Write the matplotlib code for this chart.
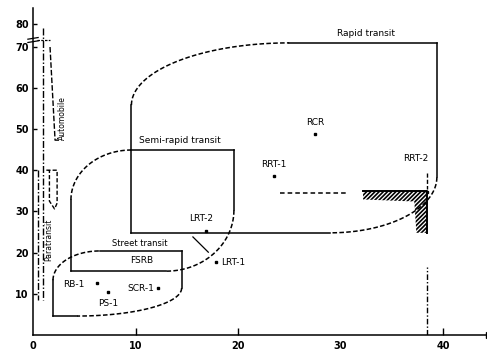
import numpy as np
import matplotlib.pyplot as plt
from matplotlib.patches import Polygon

plt.rcParams['font.family'] = 'DejaVu Sans'
plt.rcParams['hatch.linewidth'] = 1.2

# axis ticks
x_ticks = [0, 10, 20, 30, 40]
y_ticks = [10, 20, 30, 40, 50, 60, 70, 75.5]
y_tick_labels = ['10', '20', '30', '40', '50', '60', '70', '80']

# mode regions: [left, right], [bottom, top], corner radii (top-left rx, ry, bottom-right rx, ry)
rapid_x = [9.6, 39.4]
rapid_y = [24.8, 70.9]
rapid_corners = [15.4, 15.1, 10.4, 13.5]
semi_x = [3.7, 19.6]
semi_y = [15.5, 44.9]
semi_corners = [5.9, 12.1, 6.6, 14.8]
street_x = [1.95, 14.5]
street_y = [4.6, 20.4]
street_corners = [4.55, 7.1, 10.2, 6.8]

# single modes
mode_names = ['RB-1', 'PS-1', 'SCR-1', 'LRT-1', 'LRT-2', 'RRT-1', 'RCR', 'RRT-2']
mode_x = [6.2, 7.3, 12.2, 17.9, 16.9, 23.5, 27.5, 38.4]
mode_y = [12.6, 10.4, 11.4, 17.7, 25.2, 38.6, 48.8, 34.7]

# RRT range (dashed) and its limit corner
rrt_range_x = [24.1, 30.6]
rrt_range_y = 34.4
rrt_corner_x = [32.2, 38.4, 38.4, 37.4, 37.2, 32.2]
rrt_corner_y = [34.9, 34.9, 24.8, 24.8, 32.4, 32.9]

# automobile / paratransit bands at the left
auto_x = [1.66, 2.15, 2.8]
auto_y = [69.9, 47.3, 47.3]
para_x = [1.3, 2.35, 2.35, 2.1, 1.6, 1.6]
para_y = [40.0, 40.0, 32.0, 30.6, 32.5, 40.0]


def region(ax, xs, ys, c):
    x0, x1 = xs
    y0, y1 = ys
    rx1, ry1, rx2, ry2 = c
    kw = dict(color='black', lw=1.1)
    t = np.linspace(np.pi, np.pi / 2, 40)
    ax.plot(x0 + rx1 + rx1 * np.cos(t), y1 - ry1 + ry1 * np.sin(t), ls=(0, (3, 1.5)), **kw)
    ax.plot([x0 + rx1, x1], [y1, y1], **kw)
    ax.plot([x1, x1], [y1, y0 + ry2], **kw)
    t = np.linspace(0, -np.pi / 2, 40)
    ax.plot(x1 - rx2 + rx2 * np.cos(t), y0 + ry2 + ry2 * np.sin(t), ls=(0, (3, 1.5)), **kw)
    ax.plot([x1 - rx2, x0], [y0, y0], **kw)
    ax.plot([x0, x0], [y0, y1 - ry1], **kw)


fig = plt.figure(figsize=(4.87, 3.56), dpi=100)
ax = fig.add_axes([0.0678, 0.059, 0.9366, 0.9374])
ax.set_xlim(0, 44.5)
ax.set_ylim(0, 81)

region(ax, rapid_x, rapid_y, rapid_corners)
region(ax, semi_x, semi_y, semi_corners)
region(ax, street_x, street_y, street_corners)

ax.text(32.5, 73.3, 'Rapid transit', fontsize=6.5, ha='center', va='center')
ax.text(14.3, 47.3, 'Semi-rapid transit', fontsize=6.5, ha='center', va='center')
ax.text(10.4, 22.3, 'Street transit', fontsize=6, ha='center', va='center')
ax.text(10.6, 18.2, 'FSRB', fontsize=6.5, ha='center', va='center')
ax.text(2.85, 47.3, 'Automobile', fontsize=5.5, rotation=90, ha='center', va='bottom')
ax.text(1.5, 23.0, 'Paratransit', fontsize=5.5, rotation=90, ha='center', va='center')

# mode points and labels
offsets = {'RB-1': (-9, -1, 'right'), 'PS-1': (0, -8, 'center'), 'SCR-1': (-3, 0, 'right'),
           'LRT-1': (3, 0, 'left'), 'LRT-2': (-4, 9, 'center'), 'RRT-1': (0, 8, 'center'),
           'RCR': (0, 8, 'center'), 'RRT-2': (-8, 24, 'center')}
ax.plot(mode_x, mode_y, 's', color='black', ms=2)
for name, x, y in zip(mode_names, mode_x, mode_y):
    dx, dy, ha = offsets[name]
    ax.annotate(name, (x, y), xytext=(dx, dy), textcoords='offset points',
                fontsize=6.5, ha=ha, va='center')

# RRT markers
ax.plot(rrt_range_x, [rrt_range_y] * 2, color='black', lw=1.1, ls=(0, (3, 2)))
ax.add_patch(Polygon(list(zip(rrt_corner_x, rrt_corner_y)), closed=True,
                     facecolor='white', edgecolor='black', lw=0, hatch='////////'))
ax.plot(rrt_corner_x[:3], rrt_corner_y[:3], color='black', lw=1.4)
ax.plot([mode_x[-1]] * 2, [39.3, 35.5], color='black', lw=1, ls=(0, (3, 1.5)))
ax.plot([mode_x[-1]] * 2, [0, 16.5], color='black', lw=1, ls=(0, (4, 1.5, 1, 1.5)))
ax.plot([15.6, 17.1], [23.8, 20.1], color='black', lw=0.9)

# left bands
ax.plot([1.0, 1.0], [74.5, 8.5], color='black', lw=1, ls=(0, (5, 1.5, 1, 1.5)))
ax.plot([0.45, 0.45], [40.0, 8.5], color='black', lw=1, ls=(0, (5, 1.5, 1, 1.5)))
ax.plot([0.4, 1.66], [71.6, 71.6], color='black', lw=0.9, ls=(0, (2, 1)))
ax.plot(auto_x, auto_y, color='black', lw=1, ls=(0, (4, 1.5)))
ax.plot(para_x, para_y, color='black', lw=1, ls=(0, (3, 1.5)))

# axes
for s in ['top', 'right']:
    ax.spines[s].set_visible(False)
ax.spines['left'].set_bounds(0, 79.3)
for s in ['left', 'bottom']:
    ax.spines[s].set_linewidth(1.1)
ax.plot(1, 0, '>k', ms=4, transform=ax.transAxes, clip_on=False)
ax.plot([-0.5, 0.5], [71.0, 71.4], color='black', lw=0.9, clip_on=False)
ax.plot([-0.5, 0.5], [71.8, 72.2], color='black', lw=0.9, clip_on=False)

ax.set_xticks(x_ticks)
ax.set_xticklabels([str(v) for v in x_ticks], fontweight='bold')
ax.set_yticks(y_ticks)
ax.set_yticklabels(y_tick_labels, fontweight='bold')
ax.tick_params(axis='x', direction='in', length=5, width=1, labelsize=7, pad=4)
ax.tick_params(axis='y', direction='in', length=3, width=1, labelsize=7, pad=3)
xt = ax.xaxis.get_major_ticks()
xt[0].tick1line.set_visible(False)
xt[3].tick1line.set_visible(False)

fig.savefig('out.png', dpi=100)
